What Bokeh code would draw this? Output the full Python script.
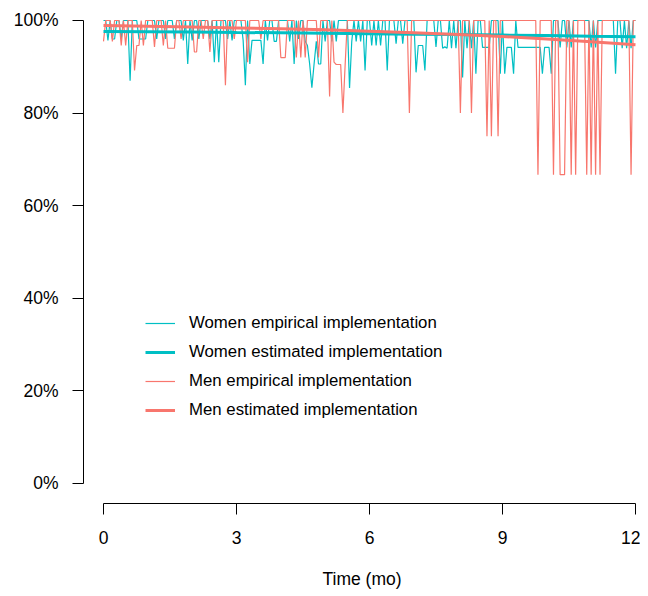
from bokeh.plotting import figure
from bokeh.models import Legend, LegendItem, FixedTicker, Range1d, ColumnDataSource
from bokeh.embed import file_html
from bokeh.resources import INLINE

# Empirical implementation (%), sampled every 0.05 month from 0 to 12
WOMEN_EMP = [
    100, 100, 95.7, 100, 96, 96, 100, 100, 96, 100,
    100, 100, 87, 100, 100, 100, 96, 96, 96, 96,
    100, 100, 100, 100, 96, 100, 100, 100, 96, 100,
    100, 100, 96, 100, 100, 100, 95.7, 100, 90.6, 100,
    95.7, 100, 100, 96, 100, 100, 100, 100, 96, 100,
    91, 100, 91, 100, 100, 100, 96, 100, 95.7, 100,
    100, 100, 100, 95.7, 86, 100, 90.6, 95.7, 95.7, 95.7,
    95.7, 95.7, 90.6, 100, 95.7, 100, 100, 95.5, 95.5, 100,
    100, 100, 100, 100, 95.5, 100, 90.6, 100, 96, 100,
    100, 95.5, 94.6, 90.6, 85.5, 90.6, 95.5, 90.6, 90.6, 100,
    95.5, 100, 100, 95.5, 100, 95.5, 100, 100, 100, 100,
    100, 85.4, 95.5, 100, 95.5, 100, 95.5, 100, 89.2, 100,
    100, 94.6, 100, 94.6, 100, 94.6, 100, 100, 89.2, 100,
    100, 100, 95, 100, 100, 95, 100, 100, 100, 100,
    100, 88.8, 94.6, 94.6, 94.6, 89.2, 100, 100, 100, 100,
    94.3, 100, 100, 94, 94.3, 94, 100, 94, 100, 94,
    100, 100, 87.7, 100, 94, 100, 94, 100, 88.5, 100,
    100, 94.2, 94.2, 94.2, 94.2, 100, 100, 100, 100, 88.5,
    100, 88.5, 94.2, 94.2, 94.2, 88.5, 100, 94.2, 94.2, 94.2,
    94.2, 94.2, 94.2, 94.2, 94.2, 94.2, 94.2, 94.2, 88.5, 94.2,
    94.2, 94.2, 88.5, 100, 100, 100, 94.2, 100, 100, 94.2,
    100, 94.2, 100, 100, 100, 100, 100, 100, 100, 100,
    94.2, 100, 94.2, 100, 100, 100, 100, 100, 100, 100,
    100, 88.5, 100, 100, 94, 100, 94, 100, 94, 100,
    100,
]

MEN_EMP = [
    95.5, 100, 100, 100, 95.5, 100, 100, 100, 94.6, 100,
    94.6, 100, 100, 100, 89.2, 94.6, 94.6, 100, 94.6, 100,
    100, 100, 100, 94.3, 100, 100, 100, 94.6, 100, 94,
    94, 94, 94, 100, 100, 96, 100, 100, 100, 100,
    100, 93.2, 93.2, 100, 100, 96, 100, 100, 93.2, 100,
    100, 100, 100, 100, 100, 86, 100, 100, 100, 96,
    100, 100, 100, 100, 100, 91, 100, 100, 100, 100,
    100, 96, 100, 100, 100, 100, 100, 100, 100, 100,
    92, 92, 92, 100, 100, 100, 100, 92, 100, 92,
    100, 92, 100, 100, 100, 100, 100, 92, 100, 100,
    100, 100, 83.6, 100, 91, 90.5, 90.5, 90.5, 80, 90.3,
    100, 100, 100, 100, 100, 100, 100, 100, 100, 100,
    100, 100, 100, 100, 100, 100, 100, 100, 100, 100,
    100, 100, 100, 100, 100, 100, 100, 100, 80, 100,
    100, 100, 100, 100, 100, 100, 100, 100, 100, 100,
    100, 100, 100, 100, 100, 100, 100, 100, 100, 100,
    100, 80, 100, 100, 100, 100, 80, 100, 100, 100,
    100, 100, 100, 75, 100, 75, 100, 100, 75, 100,
    100, 100, 100, 100, 100, 100, 100, 100, 100, 100,
    100, 100, 100, 100, 100, 100, 66.7, 100, 100, 100,
    100, 100, 100, 66.7, 100, 100, 66.7, 66.7, 66.7, 100,
    100, 66.7, 100, 66.7, 100, 100, 100, 100, 66.7, 100,
    66.7, 100, 66.7, 100, 66.7, 100, 100, 100, 100, 100,
    100, 100, 100, 100, 100, 100, 100, 100, 66.7, 100,
    100,
]

TIME_STEP = 0.05

# Estimated implementation (%), read at each month
EST_MONTHS = [0, 1, 2, 3, 4, 5, 6, 7, 8, 9, 10, 11, 12]
WOMEN_EST = [97.6, 97.55, 97.5, 97.4, 97.35, 97.25, 97.15, 97.05, 96.95, 96.85, 96.75, 96.6, 96.5]
MEN_EST = [98.9, 98.75, 98.6, 98.4, 98.2, 98.0, 97.7, 97.35, 96.95, 96.55, 96.0, 95.4, 94.75]

X_TICKS = [0, 3, 6, 9, 12]
Y_TICKS = [0, 20, 40, 60, 80, 100]
Y_LABELS = ["0%", "20%", "40%", "60%", "80%", "100%"]
LEGEND_LABELS = [
    "Women empirical implementation",
    "Women estimated implementation",
    "Men empirical implementation",
    "Men estimated implementation",
]

CYAN = "#00BFC4"
RED = "#F8766D"
FONT = "Liberation Sans"

time = [round(i * TIME_STEP, 2) for i in range(len(WOMEN_EMP))]

p = figure(
    frame_width=557, frame_height=495,
    x_range=Range1d(-0.4512, 12.113), y_range=Range1d(-4.32, 102.59),
    output_backend="svg", toolbar_location=None,
    min_border_left=83, min_border_right=0, min_border_top=8, min_border_bottom=80,
)
p.outline_line_color = None
p.background_fill_color = "white"
p.border_fill_color = "white"
p.xgrid.visible = False
p.ygrid.visible = False

src_w = ColumnDataSource(dict(t=time, v=WOMEN_EMP))
src_m = ColumnDataSource(dict(t=time, v=MEN_EMP))
src_west = ColumnDataSource(dict(t=EST_MONTHS, v=WOMEN_EST))
src_mest = ColumnDataSource(dict(t=EST_MONTHS, v=MEN_EST))

r_we = p.line("t", "v", source=src_w, line_color=CYAN, line_width=1.2)
r_me = p.line("t", "v", source=src_m, line_color=RED, line_width=1.2)
r_wes = p.line("t", "v", source=src_west, line_color=CYAN, line_width=3)
r_mes = p.line("t", "v", source=src_mest, line_color=RED, line_width=3)

# Axes (R style: line only spans the tick range)
xa = p.xaxis[0]
xa.ticker = FixedTicker(ticks=X_TICKS)
xa.bounds = (0, 12)
xa.axis_label = "Time (mo)"
ya = p.yaxis[0]
ya.ticker = FixedTicker(ticks=Y_TICKS)
ya.bounds = (0, 100)
ya.major_label_overrides = {t: l for t, l in zip(Y_TICKS, Y_LABELS)}
ya.major_label_orientation = "horizontal"

for ax in (xa, ya):
    ax.axis_line_color = "black"
    ax.axis_line_width = 1
    ax.major_tick_line_color = "black"
    ax.major_tick_in = 0
    ax.major_tick_out = 11
    ax.minor_tick_line_color = None
    ax.major_label_text_font = FONT
    ax.major_label_text_font_size = "17.5px"
    ax.major_label_text_color = "black"
    ax.axis_label_text_font = FONT
    ax.axis_label_text_font_size = "17.5px"
    ax.axis_label_text_font_style = "normal"
    ax.axis_label_text_color = "black"
xa.major_label_standoff = 16
xa.axis_label_standoff = 22
ya.major_label_standoff = 14

legend = Legend(
    items=[
        LegendItem(label=LEGEND_LABELS[0], renderers=[r_we]),
        LegendItem(label=LEGEND_LABELS[1], renderers=[r_wes]),
        LegendItem(label=LEGEND_LABELS[2], renderers=[r_me]),
        LegendItem(label=LEGEND_LABELS[3], renderers=[r_mes]),
    ],
    location=(62, 83),
    padding=0, margin=0, spacing=9,
    glyph_width=30, glyph_height=20, label_height=20, label_standoff=14,
    label_text_font=FONT, label_text_font_size="16.8px", label_text_color="black",
    border_line_alpha=0, background_fill_alpha=0,
)
p.add_layout(legend)

open("out.html", "w").write(file_html(p, INLINE))
